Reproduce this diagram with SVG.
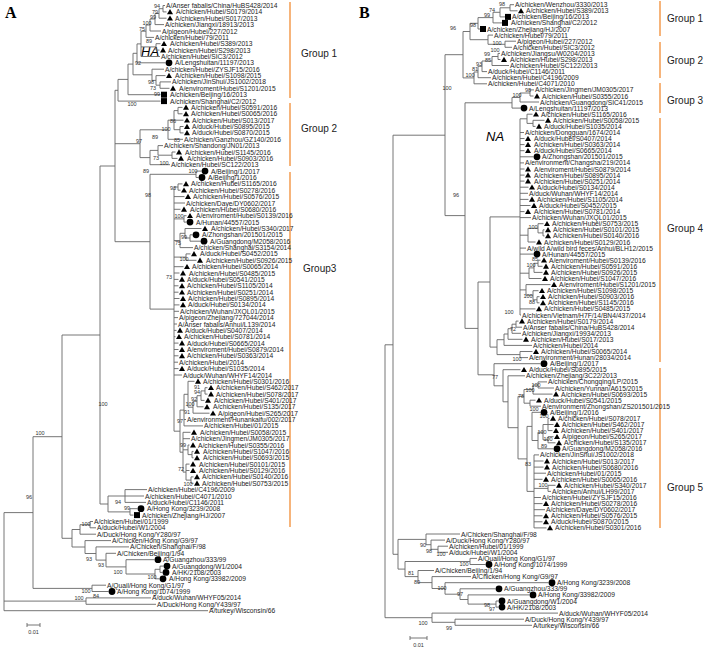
<svg xmlns="http://www.w3.org/2000/svg" xmlns:xlink="http://www.w3.org/1999/xlink" width="708" height="648" viewBox="0 0 708 648">
<style>
.t{font-family:"Liberation Sans",Arial,sans-serif;font-size:6.7px;fill:#222}
.bs{font-family:"Liberation Sans",Arial,sans-serif;font-size:5.5px;fill:#333;text-anchor:middle}
.ln{stroke:#666;stroke-width:0.9;fill:none}
.or{stroke:#F4A25A;stroke-width:1.6;fill:none}
.g{font-family:"Liberation Sans",Arial,sans-serif;font-size:10px;fill:#222}
.ttl{font-family:"Liberation Serif","Times New Roman",serif;font-size:16px;font-weight:bold;fill:#000}
.gn{font-family:"Liberation Sans",Arial,sans-serif;font-size:13px;font-style:italic;fill:#000}
use{fill:#000}
</style>
<defs>
<path id="tri" d="M0,-2.8L3,2.4H-3Z"/>
<circle id="dot" r="3.4"/>
<rect id="sq" x="-3" y="-3" width="6" height="6"/>
</defs>
<rect width="708" height="648" fill="#fff"/>
<text class="ttl" x="5" y="18">A</text>
<text class="ttl" x="359" y="18">B</text>
<text class="gn" x="141" y="56">HA</text>
<text class="gn" x="486" y="141">NA</text>
<g id="connectors">
<path class="ln" d="M163 5.5V11.9M163 5.5H165M163 11.9H166.5M159 8.7V18.2M159 8.7H163M159 18.2H166.5M155 13.5V24.6M155 13.5H159M155 24.6H164M150 19V31M150 19H155M150 31H161M146 25V37.4M146 25H150M146 37.4H154M156 43.7V50.1M156 43.7H160.5M156 50.1H159.5M141 31.2V56.5M141 31.2H146M141 46.9H156M141 56.5H160M137 43.9V62.8M137 43.9H141M137 62.8H165.5M160 81.9V88.3M160 81.9H171M160 88.3H169.5M156 75.6V85.2M156 75.6H165.5M156 85.2H160M152 69.2V80.4M152 69.2H164M152 80.4H156M133 53.3V74.8M133 53.3H137M133 74.8H152M128 64.1V94.7M128 64.1H133M128 94.7H160.5M118 79.4V101.1M118 79.4H128M118 101.1H160.5
M178 107.4V113.8M178 107.4H182.5M178 113.8H182.5M180 126.5V132.9M180 126.5H183.5M180 132.9H183.5M174 110.6V129.7M174 110.6H178M174 120.2H183.5M174 129.7H180M168 120.2V139.3M168 120.2H174M168 139.3H183M172 152V158.4M172 152H175.5M172 158.4H177.5M158 145.6V155.2M158 145.6H163M158 155.2H172M150 150.4V164.7M150 150.4H158M150 164.7H170M140 129.8V157.6M140 129.8H168M140 157.6H150
M196 171.1V177.5M196 171.1H201.5M196 177.5H198.5M178 183.9V190.2M178 183.9H182.5M178 190.2H180.5M184 215.7V222.1M184 215.7H186.5M184 222.1H186.5M190 234.8V241.2M190 234.8H192.5M190 241.2H200.5M185 228.5V238M185 228.5H201.5M185 238H190M180 233.3V247.6M180 233.3H185M180 247.6H193M186 253.9V260.3M186 253.9H190.5M186 260.3H196.5
M174 187V431.2M174 187H178M174 196.6H184.5M174 203H185M174 209.3H180.5M174 218.9H184M174 240.5H180M174 257.1H186M174 266.7H183.5M174 273H179.5M174 279.4H178.5M174 285.8H178.5M174 292.2H178.5M174 298.5H179.5M174 304.9H179.5M174 311.3H179M174 317.6H178M174 324H177M174 330.4H176.5M174 336.7H175.5M174 343.1H178.5M174 349.5H178.5M174 355.8H178.5M174 362.2H178M174 368.6H178.5M174 375H182M174 431.2H180
M205 387.7V394.1M205 387.7H207.5M205 394.1H207.5M201 390.9V400.4M201 390.9H205M201 400.4H204.5M197 395.7V406.8M197 395.7H201M197 406.8H203.5M193 401.3V413.2M193 401.3H197M193 413.2H209.5M188 381.3V407.2M188 381.3H194.5M188 407.2H193M184 394.3V425.9M184 394.3H188M184 419.5H186M184 425.9H203M192 451.4V457.8M192 451.4H193.5M192 457.8H193.5M188 445V454.6M188 445H189.5M188 454.6H192M191 476.9V483.3M191 476.9H193.5M191 483.3H193.5M186 464.1V480.1M186 464.1H189.5M186 470.5H189.5M186 480.1H191M183 432.3V472.1M183 432.3H190.5M183 438.7H190M183 449.8H188M183 472.1H186M180 410.1V452.2M180 410.1H184M180 452.2H183
M150 174.3V309.1M150 174.3H196M150 309.1H174M115 90.3V241.7M115 90.3H118M115 143.7H140M115 241.7H150M125 489.6V502.4M125 489.6H147M125 496H144M125 502.4H146M130 508.7V515.1M130 508.7H137.5M130 515.1H133.5M108 496V511.9M108 496H125M108 511.9H130M100 166V504M100 166H115M100 504H108
M90 521.5V527.8M90 521.5H93M90 527.8H96M80 524.7V534.2M80 524.7H90M80 534.2H96M160 566.1V572.4M160 566.1H163.5M160 572.4H162.5M155 569.3V578.8M155 569.3H160M155 578.8H159.5M126 559.7V574M126 559.7H154.5M126 574H155M106 553.3V566.9M106 553.3H116M106 566.9H126M96 546.9V560.1M96 546.9H129M96 560.1H106M85 540.6V553.5M85 540.6H111M85 553.5H96M72 529.5V547M72 529.5H80M72 547H85M62 335V538.3M62 335H100M62 538.3H72M92 585.2V591.5M92 585.2H106M92 591.5H108.5M33 436.7V588.4M33 436.7H62M33 588.4H92M86 597.9V604.3M86 597.9H151M86 604.3H156M4 512.6V610.7M4 512.6H33M4 601.1H86M4 610.7H208"/>
<path class="ln" d="M510 4.7V10.8M510 4.7H514M510 10.8H517.5M500 7.8V16.9M500 7.8H510M500 16.9H505M493 12.3V22.9M493 12.3H500M493 22.9H502M478 17.6V29M478 17.6H493M478 29H480M505 41.2V47.3M505 41.2H516M505 47.3H512M488 35.1V44.3M488 35.1H493M488 44.3H505M470 23.3V39.7M470 23.3H478M470 39.7H488
M498 53.4V59.5M498 53.4H500M498 59.5H500.5M492 56.5V65.5M492 56.5H498M492 65.5H509M482 61V71.6M482 61H492M482 71.6H487M478 66.3V77.7M478 66.3H482M478 77.7H491M474 72V83.8M474 72H478M474 83.8H487M463 31.5V77.9M463 31.5H470M463 77.9H474
M530 89.9V96M530 89.9H534M530 96H533.5M520 93V102M520 93H530M520 102H539M512 97.5V108.1M512 97.5H520M512 108.1H520.5
M533 120.3V126.4M533 120.3H544.5M533 126.4H535.5M527 114.2V123.4M527 114.2H532.5M527 123.4H533M543 229.8V235.9M543 229.8H544.5M543 235.9H544.5M538 223.7V232.9M538 223.7H543.5M538 232.9H543M528 228.3V242M528 228.3H538M528 242H535.5M538 260.2V266.3M538 260.2H540.5M538 266.3H542.5M534 263.3V272.4M534 263.3H538M534 272.4H542.5M529 267.9V278.5M529 267.9H534M529 278.5H541.5M537 296.7V302.8M537 296.7H539.5M537 302.8H539.5M533 290.7V299.8M533 290.7H538.5M533 299.8H537M526 284.6V295.2M526 284.6H550.5M526 295.2H533
M520 118.8V315M520 118.8H527M520 132.5H524M520 138.5H524.5M520 144.6H524.5M520 150.7H524.5M520 156.8H533.5M520 162.9H524M520 169H524.5M520 175.1H524.5M520 181.1H524.5M520 187.2H528.5M520 193.3H528M520 199.4H528.5M520 205.5H530.5M520 211.6H524.5M520 217.6H531M520 235.2H528M520 248.1H526M520 254.1H533.5M520 273.2H529M520 289.9H526M520 308.9H535.5M520 315H521
M516 321.1V327.2M516 321.1H518.5M516 327.2H522M512 324.2V333.3M512 324.2H516M512 333.3H521M508 328.7V339.3M508 328.7H512M508 339.3H522.5M504 334V345.4M504 334H508M504 345.4H532M520 351.5V357.6M520 351.5H532.5M520 357.6H528M497 339.7V354.6M497 339.7H504M497 354.6H520M490 216.9V347.1M490 216.9H520M490 347.1H497
M538 381.9V388M538 381.9H547M538 388H554M533 385V394.1M533 385H538M533 394.1H552.5M530 400.2V406.2M530 400.2H535.5M530 406.2H541M524 389.5V403.2M524 389.5H533M524 403.2H530M548 418.4V430.6M548 418.4H549.5M548 424.5H553.5M548 430.6H552.5M548 436.7V442.8M548 436.7H553.5M548 442.8H555.5M543 424.5V439.8M543 424.5H548M543 439.8H548M538 432.2V448.8M538 432.2H543M538 448.8H553.5M532 412.3V440.5M532 412.3H540.5M532 440.5H538M548 485.3V491.4M548 485.3H555.5M548 491.4H551
M534 454.9V527.9M534 454.9H539M534 461H543.5M534 467.1H543.5M534 473.2H546M534 479.3H542.5M534 488.4H548M534 497.5H541M534 503.6H542.5M534 509.7H545M534 515.8H542.5M534 521.8H542.5M534 527.9H546.5M527 426.4V491.4M527 426.4H532M527 491.4H534M518 396.4V458.9M518 396.4H524M518 458.9H527M508 375.8V427.7M508 375.8H525M508 427.7H518M503 369.7V401.8M503 369.7H520.5M503 401.8H508M494 363.7V385.8M494 363.7H540.5M494 385.8H503M478 282V374.8M478 282H490M478 374.8H494M465 102.8V328.4M465 102.8H512M465 328.4H478M445 54.7V215.6M445 54.7H463M445 215.6H465
M438 546.2V552.3M438 546.2H448M438 552.3H448M431 540.1V549.3M431 540.1H445M431 549.3H438M426 534V544.7M426 534H460M426 544.7H431M470 558.4V564.5M470 558.4H477M470 564.5H485.5M496 601V607.1M496 601H498.5M496 607.1H498.5M468 594.9V604.1M468 594.9H529.5M468 604.1H496M460 588.8V599.5M460 588.8H495.5M460 599.5H468M445 582.7V594.2M445 582.7H548.5M445 594.2H460M432 576.6V588.5M432 576.6H471M432 588.5H445M418 570.5V582.6M418 570.5H434M418 582.6H432M405 561.5V576.6M405 561.5H470M405 576.6H418M398 539.4V569.1M398 539.4H426M398 569.1H405M455 619.2V625.3M455 619.2H524M455 625.3H532M432 613.1V622.3M432 613.1H558M432 622.3H455M393 135.2V554.3M393 135.2H445M393 554.3H398M385 344.8V617.7M385 344.8H393M385 617.7H432"/>
</g>
<g id="scalebars">
<path class="ln" d="M27 625H40M27 623V627M40 623V627M410 638H427M410 636V640M427 636V640"/>
<text class="bs" x="33.5" y="634">0.01</text>
<text class="bs" x="418.5" y="647">0.01</text>
</g>
<g id="groups">
<path class="or" d="M290 2V98M290 103V166M290 172V527M660 1V36M660 42V78M660 83V113M660 118V362M660 368V528"/>
<text class="g" x="301" y="57">Group 1</text>
<text class="g" x="301" y="132">Group 2</text>
<text class="g" x="303" y="272">Group3</text>
<text class="g" x="667" y="22">Group 1</text>
<text class="g" x="667" y="64">Group 2</text>
<text class="g" x="667" y="104">Group 3</text>
<text class="g" x="667" y="232">Group 4</text>
<text class="g" x="667" y="491">Group 5</text>
</g>
<g id="bootstrapA">
<text class="bs" x="157" y="8">94</text><text class="bs" x="155" y="14">79</text><text class="bs" x="153" y="19">99</text><text class="bs" x="147" y="25">100</text><text class="bs" x="142" y="31">75</text><text class="bs" x="149" y="43">89</text><text class="bs" x="138" y="65">92</text><text class="bs" x="151" y="84">98</text><text class="bs" x="153" y="90">73</text><text class="bs" x="157" y="96">99</text><text class="bs" x="132" y="106">100</text><text class="bs" x="173" y="123">86</text><text class="bs" x="166" y="131">100</text><text class="bs" x="177" y="142">85</text><text class="bs" x="139" y="143">97</text><text class="bs" x="155" y="139">89</text><text class="bs" x="156" y="160">73</text><text class="bs" x="164" y="165">100</text><text class="bs" x="146" y="173">89</text><text class="bs" x="193" y="173">100</text><text class="bs" x="173" y="190">93</text><text class="bs" x="148" y="197">98</text><text class="bs" x="179" y="218">100</text><text class="bs" x="184" y="239">99</text><text class="bs" x="178" y="245">75</text><text class="bs" x="184" y="261">100</text><text class="bs" x="169" y="279">73</text><text class="bs" x="197" y="389">91</text><text class="bs" x="197" y="394">94</text><text class="bs" x="194" y="401">92</text><text class="bs" x="190" y="406">100</text><text class="bs" x="187" y="414">91</text><text class="bs" x="180" y="423">97</text><text class="bs" x="103" y="406">100</text><text class="bs" x="183" y="447">99</text><text class="bs" x="181" y="471">72</text><text class="bs" x="188" y="486.2">100</text><text class="bs" x="118" y="504">94</text><text class="bs" x="127" y="510">99</text><text class="bs" x="29" y="499">96</text><text class="bs" x="40" y="435">100</text><text class="bs" x="86" y="526">100</text><text class="bs" x="89" y="561">93</text><text class="bs" x="101" y="567">93</text><text class="bs" x="118" y="574">100</text><text class="bs" x="152" y="579">100</text><text class="bs" x="86" y="593">100</text><text class="bs" x="96" y="598">84</text><text class="bs" x="79" y="600">100</text>
</g>
<g id="bootstrapB">
<text class="bs" x="502" y="6">98</text><text class="bs" x="492" y="12">74</text><text class="bs" x="487" y="17">99</text><text class="bs" x="473" y="27">98</text><text class="bs" x="453" y="30">96</text><text class="bs" x="497" y="45">100</text><text class="bs" x="495" y="52.3">100</text><text class="bs" x="487" y="56.3">99</text><text class="bs" x="488" y="62">85</text><text class="bs" x="479" y="66">93</text><text class="bs" x="475" y="71">81</text><text class="bs" x="470" y="77">100</text><text class="bs" x="447" y="90">100</text><text class="bs" x="528" y="92">98</text><text class="bs" x="517" y="97">100</text><text class="bs" x="456" y="197">96</text><text class="bs" x="533" y="229">100</text><text class="bs" x="535" y="261">85</text><text class="bs" x="531" y="267">100</text><text class="bs" x="528" y="298">100</text><text class="bs" x="532" y="304">88</text><text class="bs" x="509" y="314">100</text><text class="bs" x="513" y="331">72</text><text class="bs" x="517" y="361">100</text><text class="bs" x="495" y="379">77</text><text class="bs" x="536" y="386.5">100</text><text class="bs" x="530" y="392">100</text><text class="bs" x="521" y="398">78</text><text class="bs" x="534" y="411">100</text><text class="bs" x="544" y="417.8">100</text><text class="bs" x="542" y="434">100</text><text class="bs" x="548" y="441">100</text><text class="bs" x="544" y="447.5">89</text><text class="bs" x="528" y="466">83</text><text class="bs" x="543" y="487">100</text><text class="bs" x="423" y="547">90</text><text class="bs" x="429" y="553">98</text><text class="bs" x="441" y="556">100</text><text class="bs" x="464" y="566">100</text><text class="bs" x="411" y="575">81</text><text class="bs" x="417" y="584">80</text><text class="bs" x="442" y="590">100</text><text class="bs" x="460" y="596">97</text><text class="bs" x="487" y="607">98</text><text class="bs" x="492" y="611">97</text><text class="bs" x="423" y="625">100</text><text class="bs" x="449" y="630">99</text>
</g>
<g id="leavesA">
<g id="a0"><text class="t" x="166" y="8">A/Anser fabalis/China/HuBS428/2014</text></g>
<g id="a1"><use href="#tri" x="170" y="11.9"/><text class="t" x="176" y="14.4">A/chicken/Hubei/S0179/2014</text></g>
<g id="a2"><use href="#tri" x="170" y="18.2"/><text class="t" x="175" y="20.7">A/chicken/Hubei/S017/2013</text></g>
<g id="a3"><text class="t" x="165" y="27.1">A/chicken/Jiangxi/18913/2013</text></g>
<g id="a4"><text class="t" x="162" y="33.5">A/pigeon/Hubei/227/2012</text></g>
<g id="a5"><text class="t" x="155" y="39.9">A/chicken/Hubei/79/2011</text></g>
<g id="a6"><use href="#tri" x="164" y="43.7"/><text class="t" x="170" y="46.2">A/chicken/Hubei/S389/2013</text></g>
<g id="a7"><use href="#tri" x="163" y="50.1"/><text class="t" x="168" y="52.5">A/chicken/Hubei/S298/2013</text></g>
<g id="a8"><text class="t" x="161" y="59.2">A/chicken/Hubei/SIC3/2012</text></g>
<g id="a9"><use href="#dot" x="169" y="62.8"/><text class="t" x="175" y="65.3">A/Lengshuitan/11197/2013</text></g>
<g id="a10"><text class="t" x="165" y="71.7">A/chicken/Hubei/ZYSJF15/2016</text></g>
<g id="a11"><use href="#tri" x="169" y="75.6"/><text class="t" x="175" y="78.1">A/chicken/Hubei/S1098/2015</text></g>
<g id="a12"><text class="t" x="172" y="84.4">A/chicken/JinShui/JS1002/2018</text></g>
<g id="a13"><use href="#tri" x="173" y="88.3"/><text class="t" x="179" y="90.8">A/enviroment/Hubei/S1201/2015</text></g>
<g id="a14"><use href="#sq" x="164" y="94.7"/><text class="t" x="170" y="97.2">A/chicken/Beijing/16/2013</text></g>
<g id="a15"><use href="#sq" x="164" y="101.1"/><text class="t" x="170" y="103.6">A/chicken/Shanghai/C2/2012</text></g>
<g id="a16"><use href="#tri" x="186" y="107.4"/><text class="t" x="191" y="109.9">A/chicken/Hubei/S0591/2016</text></g>
<g id="a17"><use href="#tri" x="186" y="113.8"/><text class="t" x="191" y="116.3">A/chicken/Hubei/S0065/2016</text></g>
<g id="a18"><use href="#tri" x="187" y="120.2"/><text class="t" x="192" y="122.7">A/chicken/Hubei/S013/2017</text></g>
<g id="a19"><use href="#tri" x="187" y="126.5"/><text class="t" x="192" y="129">A/duck/Hubei/S0895/2015</text></g>
<g id="a20"><use href="#tri" x="187" y="132.9"/><text class="t" x="192" y="135.4">A/duck/Hubei/S0870/2015</text></g>
<g id="a21"><text class="t" x="184" y="141.8">A/chicken/Ganzhou/GZ140/2016</text></g>
<g id="a22"><text class="t" x="164" y="148.1">A/chicken/Shandong/JN01/2013</text></g>
<g id="a23"><use href="#tri" x="179" y="152"/><text class="t" x="185" y="154.5">A/chicken/Hubei/S1145/2016</text></g>
<g id="a24"><use href="#tri" x="181" y="158.4"/><text class="t" x="187" y="160.9">A/chicken/Hubei/S0903/2016</text></g>
<g id="a25"><text class="t" x="171" y="167.2">A/chicken/Hubei/SC122/2013</text></g>
<g id="a26"><use href="#dot" x="205" y="171.1"/><text class="t" x="211" y="173.6">A/Beijing/1/2017</text></g>
<g id="a27"><use href="#dot" x="202" y="177.5"/><text class="t" x="208" y="180">A/Beijing/1/2016</text></g>
<g id="a28"><use href="#tri" x="186" y="183.9"/><text class="t" x="191" y="186.4">A/chicken/Hubei/S1165/2016</text></g>
<g id="a29"><use href="#tri" x="184" y="190.2"/><text class="t" x="189" y="192.7">A/chicken/Hubei/S0278/2016</text></g>
<g id="a30"><use href="#tri" x="188" y="196.6"/><text class="t" x="193" y="199.1">A/chicken/Hubei/S0576/2015</text></g>
<g id="a31"><text class="t" x="186" y="205.5">A/chicken/Daye/DY0602/2017</text></g>
<g id="a32"><use href="#tri" x="184" y="209.3"/><text class="t" x="190" y="211.8">A/chicken/Hubei/S0680/2016</text></g>
<g id="a33"><use href="#tri" x="190" y="215.7"/><text class="t" x="196" y="218.2">A/enviroment/Hubei/S0139/2016</text></g>
<g id="a34"><use href="#dot" x="190" y="222.1"/><text class="t" x="196" y="224.6">A/Hunan/44557/2015</text></g>
<g id="a35"><use href="#tri" x="205" y="228.5"/><text class="t" x="211" y="231">A/chicken/Hubei/S340/2017</text></g>
<g id="a36"><use href="#dot" x="196" y="234.8"/><text class="t" x="202" y="237.3">A/Zhongshan/201501/2015</text></g>
<g id="a37"><use href="#dot" x="204" y="241.2"/><text class="t" x="210" y="243.7">A/Guangdong/M2058/2016</text></g>
<g id="a38"><text class="t" x="194" y="250.1">A/chicken/Shanghai/S3154/2014</text></g>
<g id="a39"><use href="#tri" x="194" y="253.9"/><text class="t" x="200" y="256.4">A/duck/Hubei/S0452/2015</text></g>
<g id="a40"><use href="#tri" x="200" y="260.3"/><text class="t" x="206" y="262.8">A/chicken/Hubei/S0926/2015</text></g>
<g id="a41"><use href="#tri" x="187" y="266.7"/><text class="t" x="192" y="269.2">A/chicken/Hubei/S0065/2014</text></g>
<g id="a42"><use href="#tri" x="183" y="273"/><text class="t" x="189" y="275.5">A/chicken/Hubei/S0485/2015</text></g>
<g id="a43"><use href="#tri" x="182" y="279.4"/><text class="t" x="187" y="281.9">A/duck/Hubei/S0541/2015</text></g>
<g id="a44"><use href="#tri" x="182" y="285.8"/><text class="t" x="187" y="288.3">A/chicken/Hubei/S1105/2014</text></g>
<g id="a45"><use href="#tri" x="182" y="292.2"/><text class="t" x="187" y="294.7">A/chicken/Hubei/S0251/2014</text></g>
<g id="a46"><use href="#tri" x="183" y="298.5"/><text class="t" x="188" y="301">A/chicken/Hubei/S0895/2014</text></g>
<g id="a47"><use href="#tri" x="183" y="304.9"/><text class="t" x="188" y="307.4">A/duck/Hubei/S0134/2014</text></g>
<g id="a48"><text class="t" x="180" y="313.8">A/chicken/Wuhan/JXQL01/2015</text></g>
<g id="a49"><text class="t" x="179" y="320.1">A/pigeon/Zhejiang/727044/2014</text></g>
<g id="a50"><text class="t" x="178" y="326.5">A/Anser fabalis/Anhui/L139/2014</text></g>
<g id="a51"><use href="#tri" x="180" y="330.4"/><text class="t" x="185" y="332.9">A/duck/Hubei/S0407/2014</text></g>
<g id="a52"><use href="#tri" x="179" y="336.7"/><text class="t" x="184" y="339.2">A/chicken/Hubei/S0781/2014</text></g>
<g id="a53"><use href="#tri" x="182" y="343.1"/><text class="t" x="187" y="345.6">A/duck/Hubei/S0665/2014</text></g>
<g id="a54"><use href="#tri" x="182" y="349.5"/><text class="t" x="187" y="352">A/enviroment/Hubei/S0879/2014</text></g>
<g id="a55"><use href="#tri" x="182" y="355.8"/><text class="t" x="187" y="358.3">A/chicken/Hubei/S0363/2014</text></g>
<g id="a56"><text class="t" x="179" y="364.7">A/chicken/Hubei/2014</text></g>
<g id="a57"><use href="#tri" x="182" y="368.6"/><text class="t" x="187" y="371.1">A/duck/Hubei/S1035/2014</text></g>
<g id="a58"><text class="t" x="183" y="377.5">A/duck/Wuhan/WHYF14/2014</text></g>
<g id="a59"><use href="#tri" x="198" y="381.3"/><text class="t" x="203" y="383.8">A/chicken/Hubei/S0301/2016</text></g>
<g id="a60"><use href="#tri" x="211" y="387.7"/><text class="t" x="216" y="390.2">A/chicken/Hubei/S462/2017</text></g>
<g id="a61"><use href="#tri" x="211" y="394.1"/><text class="t" x="216" y="396.6">A/chicken/Hubei/S078/2017</text></g>
<g id="a62"><use href="#tri" x="208" y="400.4"/><text class="t" x="214" y="402.9">A/chicken/Hubei/S401/2017</text></g>
<g id="a63"><use href="#tri" x="207" y="406.8"/><text class="t" x="213" y="409.3">A/chicken/Hubei/S135/2017</text></g>
<g id="a64"><use href="#tri" x="213" y="413.2"/><text class="t" x="218" y="415.7">A/pigeon/Hubei/S265/2017</text></g>
<g id="a65"><text class="t" x="187" y="422">A/environment/Hunankaifu/002/2017</text></g>
<g id="a66"><text class="t" x="204" y="428.4">A/chicken/Hubei/01/2015</text></g>
<g id="a67"><use href="#tri" x="194" y="432.3"/><text class="t" x="200" y="434.8">A/chicken/Hubei/S0058/2015</text></g>
<g id="a68"><text class="t" x="191" y="441.2">A/chicken/Jingmen/JM0305/2017</text></g>
<g id="a69"><use href="#tri" x="193" y="445"/><text class="t" x="198" y="447.5">A/chicken/Hubei/S0355/2016</text></g>
<g id="a70"><use href="#tri" x="197" y="451.4"/><text class="t" x="203" y="453.9">A/chicken/Hubei/S1047/2016</text></g>
<g id="a71"><use href="#tri" x="197" y="457.8"/><text class="t" x="203" y="460.3">A/chicken/Hubei/S0693/2015</text></g>
<g id="a72"><use href="#tri" x="193" y="464.1"/><text class="t" x="199" y="466.6">A/chicken/Hubei/S0101/2015</text></g>
<g id="a73"><use href="#tri" x="193" y="470.5"/><text class="t" x="199" y="473">A/chicken/Hubei/S0129/2016</text></g>
<g id="a74"><use href="#tri" x="197" y="476.9"/><text class="t" x="202" y="479.4">A/chicken/Hubei/S0140/2016</text></g>
<g id="a75"><use href="#tri" x="197" y="483.3"/><text class="t" x="202" y="485.8">A/chicken/Hubei/S0753/2015</text></g>
<g id="a76"><text class="t" x="148" y="492.3">A/chicken/Hubei/C4196/2009</text></g>
<g id="a77"><text class="t" x="145" y="498.5">A/chicken/Hubei/C4071/2010</text></g>
<g id="a78"><text class="t" x="147" y="504.9">A/duck/Hubei/C1146/2011</text></g>
<g id="a79"><use href="#dot" x="141" y="508.7"/><text class="t" x="147" y="511.2">A/Hong Kong/3239/2008</text></g>
<g id="a80"><use href="#sq" x="137" y="515.1"/><text class="t" x="142" y="517.6">A/chicken/Zhejiang/HJ/2007</text></g>
<g id="a81"><text class="t" x="94" y="524">A/chicken/Hubei/01/1999</text></g>
<g id="a82"><text class="t" x="97" y="530.3">A/duck/Hubei/W1/2004</text></g>
<g id="a83"><text class="t" x="97" y="536.7">A/Duck/Hong Kong/Y280/97</text></g>
<g id="a84"><text class="t" x="112" y="543.1">A/Chicken/Hong Kong/G9/97</text></g>
<g id="a85"><text class="t" x="130" y="549.4">A/Chicken/Shanghai/F/98</text></g>
<g id="a86"><text class="t" x="117" y="555.8">A/Chicken/Beijing/1/94</text></g>
<g id="a87"><use href="#dot" x="158" y="559.7"/><text class="t" x="163" y="562.2">A/Guangzhou/333/99</text></g>
<g id="a88"><use href="#dot" x="167" y="566.1"/><text class="t" x="172" y="568.6">A/Guangdong/W1/2004</text></g>
<g id="a89"><use href="#dot" x="166" y="572.4"/><text class="t" x="172" y="574.9">A/HK/2108/2003</text></g>
<g id="a90"><use href="#dot" x="163" y="578.8"/><text class="t" x="169" y="581.3">A/Hong Kong/33982/2009</text></g>
<g id="a91"><text class="t" x="107" y="587.7">A/Quail/Hong Kong/G1/97</text></g>
<g id="a92"><use href="#dot" x="112" y="591.5"/><text class="t" x="117" y="594">A/Hong Kong/1074/1999</text></g>
<g id="a93"><text class="t" x="152" y="600.4">A/duck/Wuhan/WHYF05/2014</text></g>
<g id="a94"><text class="t" x="157" y="606.8">A/Duck/Hong Kong/Y439/97</text></g>
<g id="a95"><text class="t" x="209" y="613.2">A/turkey/Wisconsin/66</text></g>
</g>
<g id="leavesB">
<g id="b0"><text class="t" x="515" y="7.2">A/chicken/Wenzhou/3330/2013</text></g>
<g id="b1"><use href="#tri" x="521" y="10.8"/><text class="t" x="526" y="13.3">A/chicken/Hubei/S389/2013</text></g>
<g id="b2"><use href="#sq" x="508" y="16.9"/><text class="t" x="512" y="19.4">A/chicken/Beijing/16/2013</text></g>
<g id="b3"><use href="#sq" x="505" y="22.9"/><text class="t" x="511" y="25.4">A/chicken/Shanghai/C2/2012</text></g>
<g id="b4"><use href="#sq" x="483" y="29"/><text class="t" x="487" y="31.5">A/chicken/Zhejiang/HJ/2007</text></g>
<g id="b5"><text class="t" x="494" y="37.6">A/chicken/Hubei/79/2011</text></g>
<g id="b6"><text class="t" x="517" y="43.7">A/pigeon/Hubei/227/2012</text></g>
<g id="b7"><text class="t" x="513" y="49.8">A/chicken/Hubei/SIC3/2012</text></g>
<g id="b8"><text class="t" x="501" y="55.9">A/chicken/Jiangsu/W0204/2013</text></g>
<g id="b9"><use href="#tri" x="504" y="59.5"/><text class="t" x="510" y="62">A/chicken/Hubei/S298/2013</text></g>
<g id="b10"><text class="t" x="510" y="68">A/chicken/Hubei/SC122/2013</text></g>
<g id="b11"><text class="t" x="488" y="74.1">A/duck/Hubei/C1146/2011</text></g>
<g id="b12"><text class="t" x="492" y="80.2">A/chicken/Hubei/C4196/2009</text></g>
<g id="b13"><text class="t" x="488" y="86.3">A/chicken/Hubei/C4071/2010</text></g>
<g id="b14"><text class="t" x="535" y="92.4">A/chicken/Jingmen/JM0305/2017</text></g>
<g id="b15"><use href="#tri" x="537" y="96"/><text class="t" x="542" y="98.5">A/chicken/Hubei/S0355/2016</text></g>
<g id="b16"><text class="t" x="540" y="104.5">A/chicken/Guangdong/SIC41/2015</text></g>
<g id="b17"><use href="#dot" x="524" y="108.1"/><text class="t" x="529" y="110.6">A/Lengshuitan/11197/2013</text></g>
<g id="b18"><use href="#tri" x="536" y="114.2"/><text class="t" x="541" y="116.7">A/chicken/Hubei/S1165/2016</text></g>
<g id="b19"><use href="#tri" x="548" y="120.3"/><text class="t" x="553" y="122.8">A/chicken/Hubei/S0058/2015</text></g>
<g id="b20"><use href="#tri" x="539" y="126.4"/><text class="t" x="544" y="128.9">A/duck/Hubei/S1035/2014</text></g>
<g id="b21"><text class="t" x="525" y="135">A/chicken/Dongguan/1674/2014</text></g>
<g id="b22"><use href="#tri" x="528" y="138.5"/><text class="t" x="534" y="141">A/duck/Hubei/S0407/2014</text></g>
<g id="b23"><use href="#tri" x="528" y="144.6"/><text class="t" x="534" y="147.1">A/chicken/Hubei/S0363/2014</text></g>
<g id="b24"><use href="#tri" x="528" y="150.7"/><text class="t" x="534" y="153.2">A/duck/Hubei/S0665/2014</text></g>
<g id="b25"><use href="#dot" x="537" y="156.8"/><text class="t" x="542" y="159.3">A/Zhongshan/201501/2015</text></g>
<g id="b26"><text class="t" x="525" y="165.4">A/environment/Changsha/219/2014</text></g>
<g id="b27"><use href="#tri" x="528" y="169"/><text class="t" x="534" y="171.5">A/enviroment/Hubei/S0879/2014</text></g>
<g id="b28"><use href="#tri" x="528" y="175.1"/><text class="t" x="534" y="177.6">A/chicken/Hubei/S0895/2014</text></g>
<g id="b29"><use href="#tri" x="528" y="181.1"/><text class="t" x="534" y="183.6">A/chicken/Hubei/S0251/2014</text></g>
<g id="b30"><use href="#tri" x="532" y="187.2"/><text class="t" x="537" y="189.7">A/duck/Hubei/S0134/2014</text></g>
<g id="b31"><text class="t" x="529" y="195.8">A/duck/Wuhan/WHYF14/2014</text></g>
<g id="b32"><use href="#tri" x="532" y="199.4"/><text class="t" x="537" y="201.9">A/chicken/Hubei/S1105/2014</text></g>
<g id="b33"><use href="#tri" x="534" y="205.5"/><text class="t" x="539" y="208">A/duck/Hubei/S0452/2015</text></g>
<g id="b34"><use href="#tri" x="528" y="211.6"/><text class="t" x="534" y="214.1">A/chicken/Hubei/S0781/2014</text></g>
<g id="b35"><text class="t" x="532" y="220.1">A/chicken/Wuhan/JXQL01/2015</text></g>
<g id="b36"><use href="#tri" x="547" y="223.7"/><text class="t" x="552" y="226.2">A/chicken/Hubei/S0753/2015</text></g>
<g id="b37"><use href="#tri" x="548" y="229.8"/><text class="t" x="553" y="232.3">A/chicken/Hubei/S0101/2015</text></g>
<g id="b38"><use href="#tri" x="548" y="235.9"/><text class="t" x="553" y="238.4">A/chicken/Hubei/S0140/2016</text></g>
<g id="b39"><use href="#tri" x="539" y="242"/><text class="t" x="544" y="244.5">A/chicken/Hubei/S0129/2016</text></g>
<g id="b40"><text class="t" x="527" y="250.6">A/wild A/wild bird feces/Anhui/BLH12/2015</text></g>
<g id="b41"><use href="#dot" x="537" y="254.1"/><text class="t" x="542" y="256.6">A/Hunan/44557/2015</text></g>
<g id="b42"><use href="#tri" x="544" y="260.2"/><text class="t" x="549" y="262.7">A/enviroment/Hubei/S0139/2016</text></g>
<g id="b43"><use href="#tri" x="546" y="266.3"/><text class="t" x="551" y="268.8">A/chicken/Hubei/S0591/2016</text></g>
<g id="b44"><use href="#tri" x="546" y="272.4"/><text class="t" x="551" y="274.9">A/chicken/Hubei/S0926/2015</text></g>
<g id="b45"><use href="#tri" x="545" y="278.5"/><text class="t" x="550" y="281">A/chicken/Hubei/S1047/2016</text></g>
<g id="b46"><use href="#tri" x="554" y="284.6"/><text class="t" x="559" y="287.1">A/enviroment/Hubei/S1201/2015</text></g>
<g id="b47"><use href="#tri" x="542" y="290.7"/><text class="t" x="547" y="293.2">A/chicken/Hubei/S1098/2015</text></g>
<g id="b48"><use href="#tri" x="543" y="296.7"/><text class="t" x="548" y="299.2">A/chicken/Hubei/S0903/2016</text></g>
<g id="b49"><use href="#tri" x="543" y="302.8"/><text class="t" x="548" y="305.3">A/chicken/Hubei/S1145/2016</text></g>
<g id="b50"><use href="#tri" x="539" y="308.9"/><text class="t" x="544" y="311.4">A/chicken/Hubei/S0485/2015</text></g>
<g id="b51"><text class="t" x="522" y="317.5">A/chicken/Vietnam/H7F/14/BN4/437/2014</text></g>
<g id="b52"><use href="#tri" x="522" y="321.1"/><text class="t" x="527" y="323.6">A/chicken/Hubei/S0179/2014</text></g>
<g id="b53"><text class="t" x="523" y="329.7">A/Anser fabalis/China/HuBS428/2014</text></g>
<g id="b54"><text class="t" x="522" y="335.8">A/chicken/Jiangxi/19934/2013</text></g>
<g id="b55"><use href="#tri" x="526" y="339.3"/><text class="t" x="531" y="341.8">A/chicken/Hubei/S017/2013</text></g>
<g id="b56"><text class="t" x="533" y="347.9">A/chicken/Hubei/2014</text></g>
<g id="b57"><use href="#tri" x="536" y="351.5"/><text class="t" x="541" y="354">A/chicken/Hubei/S0065/2014</text></g>
<g id="b58"><text class="t" x="529" y="360.1">A/environment/Hunan/28034/2014</text></g>
<g id="b59"><use href="#dot" x="544" y="363.7"/><text class="t" x="550" y="366.2">A/Beijing/1/2017</text></g>
<g id="b60"><use href="#tri" x="524" y="369.7"/><text class="t" x="529" y="372.2">A/duck/Hubei/S0895/2015</text></g>
<g id="b61"><text class="t" x="526" y="378.3">A/chicken/Zhejiang/3C22/2013</text></g>
<g id="b62"><text class="t" x="548" y="384.4">A/chicken/Chongqing/LP/2015</text></g>
<g id="b63"><text class="t" x="555" y="390.5">A/chicken/Yunnan/A615/2015</text></g>
<g id="b64"><use href="#tri" x="556" y="394.1"/><text class="t" x="561" y="396.6">A/chicken/Hubei/S0693/2015</text></g>
<g id="b65"><use href="#tri" x="539" y="400.2"/><text class="t" x="544" y="402.7">A/duck/Hubei/S0541/2015</text></g>
<g id="b66"><text class="t" x="542" y="408.7">A/environment/Zhongshan/ZS201501/2015</text></g>
<g id="b67"><use href="#dot" x="544" y="412.3"/><text class="t" x="550" y="414.8">A/Beijing/1/2016</text></g>
<g id="b68"><use href="#tri" x="553" y="418.4"/><text class="t" x="558" y="420.9">A/chicken/Hubei/S078/2017</text></g>
<g id="b69"><use href="#tri" x="557" y="424.5"/><text class="t" x="562" y="427">A/chicken/Hubei/S462/2017</text></g>
<g id="b70"><use href="#tri" x="556" y="430.6"/><text class="t" x="561" y="433.1">A/chicken/Hubei/S401/2017</text></g>
<g id="b71"><use href="#tri" x="557" y="436.7"/><text class="t" x="562" y="439.2">A/pigeon/Hubei/S265/2017</text></g>
<g id="b72"><use href="#tri" x="559" y="442.8"/><text class="t" x="564" y="445.3">A/chicken/Hubei/S135/2017</text></g>
<g id="b73"><use href="#dot" x="557" y="448.8"/><text class="t" x="562" y="451.3">A/Guangdong/M2058/2016</text></g>
<g id="b74"><text class="t" x="540" y="457.4">A/chicken/JinShui/JS1002/2018</text></g>
<g id="b75"><use href="#tri" x="547" y="461"/><text class="t" x="552" y="463.5">A/chicken/Hubei/S013/2017</text></g>
<g id="b76"><use href="#tri" x="547" y="467.1"/><text class="t" x="552" y="469.6">A/chicken/Hubei/S0680/2016</text></g>
<g id="b77"><text class="t" x="547" y="475.7">A/chicken/Hubei/01/2015</text></g>
<g id="b78"><use href="#tri" x="546" y="479.3"/><text class="t" x="551" y="481.8">A/chicken/Hubei/S0065/2016</text></g>
<g id="b79"><use href="#tri" x="559" y="485.3"/><text class="t" x="564" y="487.8">A/chicken/Hubei/S340/2017</text></g>
<g id="b80"><text class="t" x="552" y="493.9">A/chicken/Anhui/LH99/2017</text></g>
<g id="b81"><text class="t" x="542" y="500">A/chicken/Hubei/ZYSJF15/2016</text></g>
<g id="b82"><use href="#tri" x="546" y="503.6"/><text class="t" x="551" y="506.1">A/chicken/Hubei/S0278/2016</text></g>
<g id="b83"><text class="t" x="546" y="512.2">A/chicken/Daye/DY0602/2017</text></g>
<g id="b84"><use href="#tri" x="546" y="515.8"/><text class="t" x="551" y="518.3">A/chicken/Hubei/S0576/2015</text></g>
<g id="b85"><use href="#tri" x="546" y="521.8"/><text class="t" x="551" y="524.3">A/duck/Hubei/S0870/2015</text></g>
<g id="b86"><use href="#tri" x="550" y="527.9"/><text class="t" x="555" y="530.4">A/chicken/Hubei/S0301/2016</text></g>
<g id="b87"><text class="t" x="461" y="536.5">A/Chicken/Shanghai/F/98</text></g>
<g id="b88"><text class="t" x="446" y="542.6">A/Duck/Hong Kong/Y280/97</text></g>
<g id="b89"><text class="t" x="449" y="548.7">A/chicken/Hubei/01/1999</text></g>
<g id="b90"><text class="t" x="449" y="554.8">A/duck/Hubei/W1/2004</text></g>
<g id="b91"><text class="t" x="478" y="560.9">A/Quail/Hong Kong/G1/97</text></g>
<g id="b92"><use href="#dot" x="489" y="564.5"/><text class="t" x="494" y="567">A/Hong Kong/1074/1999</text></g>
<g id="b93"><text class="t" x="435" y="573">A/Chicken/Beijing/1/94</text></g>
<g id="b94"><text class="t" x="472" y="579.1">A/Chicken/Hong Kong/G9/97</text></g>
<g id="b95"><use href="#dot" x="552" y="582.7"/><text class="t" x="557" y="585.2">A/Hong Kong/3239/2008</text></g>
<g id="b96"><use href="#dot" x="499" y="588.8"/><text class="t" x="504" y="591.3">A/Guangzhou/333/99</text></g>
<g id="b97"><use href="#dot" x="533" y="594.9"/><text class="t" x="538" y="597.4">A/Hong Kong/33982/2009</text></g>
<g id="b98"><use href="#dot" x="502" y="601"/><text class="t" x="507" y="603.5">A/Guangdong/W1/2004</text></g>
<g id="b99"><use href="#dot" x="502" y="607.1"/><text class="t" x="507" y="609.6">A/HK/2108/2003</text></g>
<g id="b100"><text class="t" x="559" y="615.6">A/duck/Wuhan/WHYF05/2014</text></g>
<g id="b101"><text class="t" x="525" y="621.7">A/Duck/Hong Kong/Y439/97</text></g>
<g id="b102"><text class="t" x="533" y="627.8">A/turkey/Wisconsin/66</text></g>
</g>
</svg>
